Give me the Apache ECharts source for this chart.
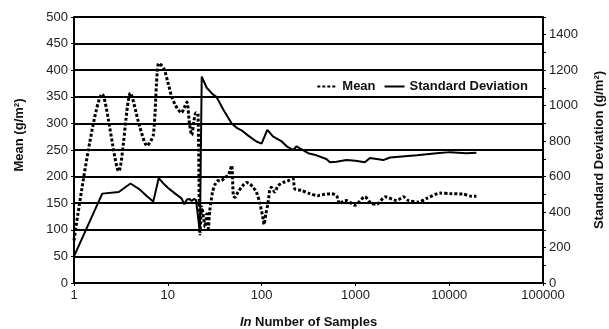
<!DOCTYPE html>
<html>
<head>
<meta charset="utf-8">
<script src="https://cdn.jsdelivr.net/npm/echarts@6/dist/echarts.min.js"></script>
<style>
    html, body {margin: 0; padding: 0; background: #fff;}
    #chart {width: 609px; height: 329px;}
</style>
</head>
<body>
<div id="chart"></div>
<script>
    // running mean (g/m2), left axis
    var meanN = [1, 2, 3, 4, 5, 6, 7, 8, 9, 10, 11, 12, 13, 14, 15, 16, 17, 18, 19, 20, 21,
        22, 23, 24, 25, 26, 27, 28, 29, 30, 32, 34, 37, 41, 44, 46, 48, 50, 52, 56, 63, 69, 75, 81, 88, 96,
        104, 106, 111, 117, 122, 127, 138, 150, 170, 191, 216, 226, 265, 326, 400, 415, 560, 630, 680, 770,
        803, 990, 1260, 1490, 1690, 2080, 2760, 3250, 3670, 4700, 5760, 8000, 10200, 14100, 17300, 19500];
    var meanVals = [80, 355, 210, 357, 295, 258, 278, 413, 405, 378, 350, 335, 325, 320, 330, 340, 300, 278, 305, 320, 318,
        92, 143, 124, 105, 130, 102, 136, 155, 171, 186, 192, 192, 199, 202, 211, 221, 164, 161, 171, 183, 189, 186, 180, 171, 149,
        120, 110, 130, 150, 174, 180, 171, 183, 189, 192, 196, 177, 174, 168, 164, 165, 168, 164, 149, 155,
        155, 146, 162, 149, 148, 162, 155, 162, 155, 152, 159, 169, 168, 167, 163, 163];

    // running standard deviation (g/m2), right axis
    var stdN = [1, 2, 3, 4, 5, 6, 7, 8, 9, 10, 12, 14, 15, 16, 17, 18, 19, 20, 21, 22, 23, 26, 30, 33, 39, 48,
        55, 61, 72, 88, 100, 104, 115, 133, 164, 185, 218, 236, 250, 314, 385, 490, 535, 628, 803, 1000,
        1260, 1430, 1980, 2340, 4530, 7340, 10200, 15200, 19500];
    var stdVals = [150, 504, 513, 561, 528, 489, 459, 591, 561, 537, 504, 477, 444, 471, 474, 462, 474, 468, 465, 285, 1164, 1101, 1065, 1050, 978, 900,
        873, 861, 831, 798, 786, 783, 864, 825, 798, 771, 750, 771, 762, 732, 720, 699, 681, 684, 693, 690,
        681, 705, 693, 708, 720, 732, 738, 732, 735];

    var xTicks = [1, 10, 100, 1000, 10000, 100000];
    var leftTicks = [0, 50, 100, 150, 200, 250, 300, 350, 400, 450, 500];
    var rightTicks = [0, 200, 400, 600, 800, 1000, 1200, 1400];

    function pairs(xs, ys) {
        return xs.map(function (x, i) { return [x, ys[i]]; });
    }

    var labelFont = {fontFamily: 'Liberation Sans, Arial, sans-serif', fontSize: 13, color: '#222'};
    var nameFont = {fontFamily: 'Liberation Sans, Arial, sans-serif', fontSize: 13, fontWeight: 'bold', color: '#111'};

    var chart = echarts.init(document.getElementById('chart'));
    chart.setOption({
        animation: false,
        grid: {left: 74, right: 66, top: 17, bottom: 46, outerBoundsMode: 'none'},
        legend: {
            right: 76,
            top: 75,
            itemWidth: 20,
            itemHeight: 10,
            itemGap: 8,
            itemStyle: {opacity: 0},
            textStyle: nameFont,
            data: ['Mean', 'Standard Deviation']
        },
        xAxis: {
            type: 'log',
            logBase: 10,
            min: xTicks[0],
            max: xTicks[xTicks.length - 1],
            name: '{i|In} Number of Samples',
            nameLocation: 'middle',
            nameGap: 33,
            nameTextStyle: Object.assign({}, nameFont, {
                rich: {i: Object.assign({}, nameFont, {fontStyle: 'italic'})}
            }),
            axisLine: {lineStyle: {color: '#000', width: 2}},
            axisTick: {show: true, length: 3, lineStyle: {color: '#000'}},
            minorTick: {show: false},
            splitLine: {show: false},
            axisLabel: Object.assign({}, labelFont, {
                margin: 6,
                formatter: function (v) { return String(Math.round(v)); }
            })
        },
        yAxis: [
            {
                type: 'value',
                min: leftTicks[0],
                max: leftTicks[leftTicks.length - 1],
                interval: 50,
                name: 'Mean (g/m²)',
                nameLocation: 'middle',
                nameGap: 48,
                nameTextStyle: Object.assign({}, nameFont, {padding: [0, 0, 0, 30]}),
                axisLine: {show: true, lineStyle: {color: '#000', width: 2}},
                axisTick: {show: true, length: 3, lineStyle: {color: '#000'}},
                splitLine: {show: true, lineStyle: {color: '#000', width: 2}},
                axisLabel: Object.assign({}, labelFont, {margin: 6})
            },
            {
                type: 'value',
                min: 0,
                max: 1500,
                interval: 100,
                name: 'Standard Deviation (g/m²)',
                nameLocation: 'middle',
                nameGap: 50,
                nameTextStyle: nameFont,
                position: 'right',
                axisLine: {show: true, lineStyle: {color: '#000', width: 2}},
                axisTick: {show: true, length: 3, lineStyle: {color: '#000'}},
                splitLine: {show: false},
                axisLabel: Object.assign({}, labelFont, {
                    margin: 6,
                    formatter: function (v) { return rightTicks.indexOf(v) >= 0 ? String(v) : ''; }
                })
            }
        ],
        series: [
            {
                name: 'Mean',
                type: 'line',
                yAxisIndex: 0,
                symbol: 'none',
                smooth: 0.25,
                lineStyle: {color: '#000', width: 3, type: [3, 2]},
                itemStyle: {color: '#000'},
                data: pairs(meanN, meanVals)
            },
            {
                name: 'Standard Deviation',
                type: 'line',
                yAxisIndex: 1,
                symbol: 'none',
                lineStyle: {color: '#000', width: 2},
                itemStyle: {color: '#000'},
                data: pairs(stdN, stdVals)
            }
        ]
    });
</script>
</body>
</html>
